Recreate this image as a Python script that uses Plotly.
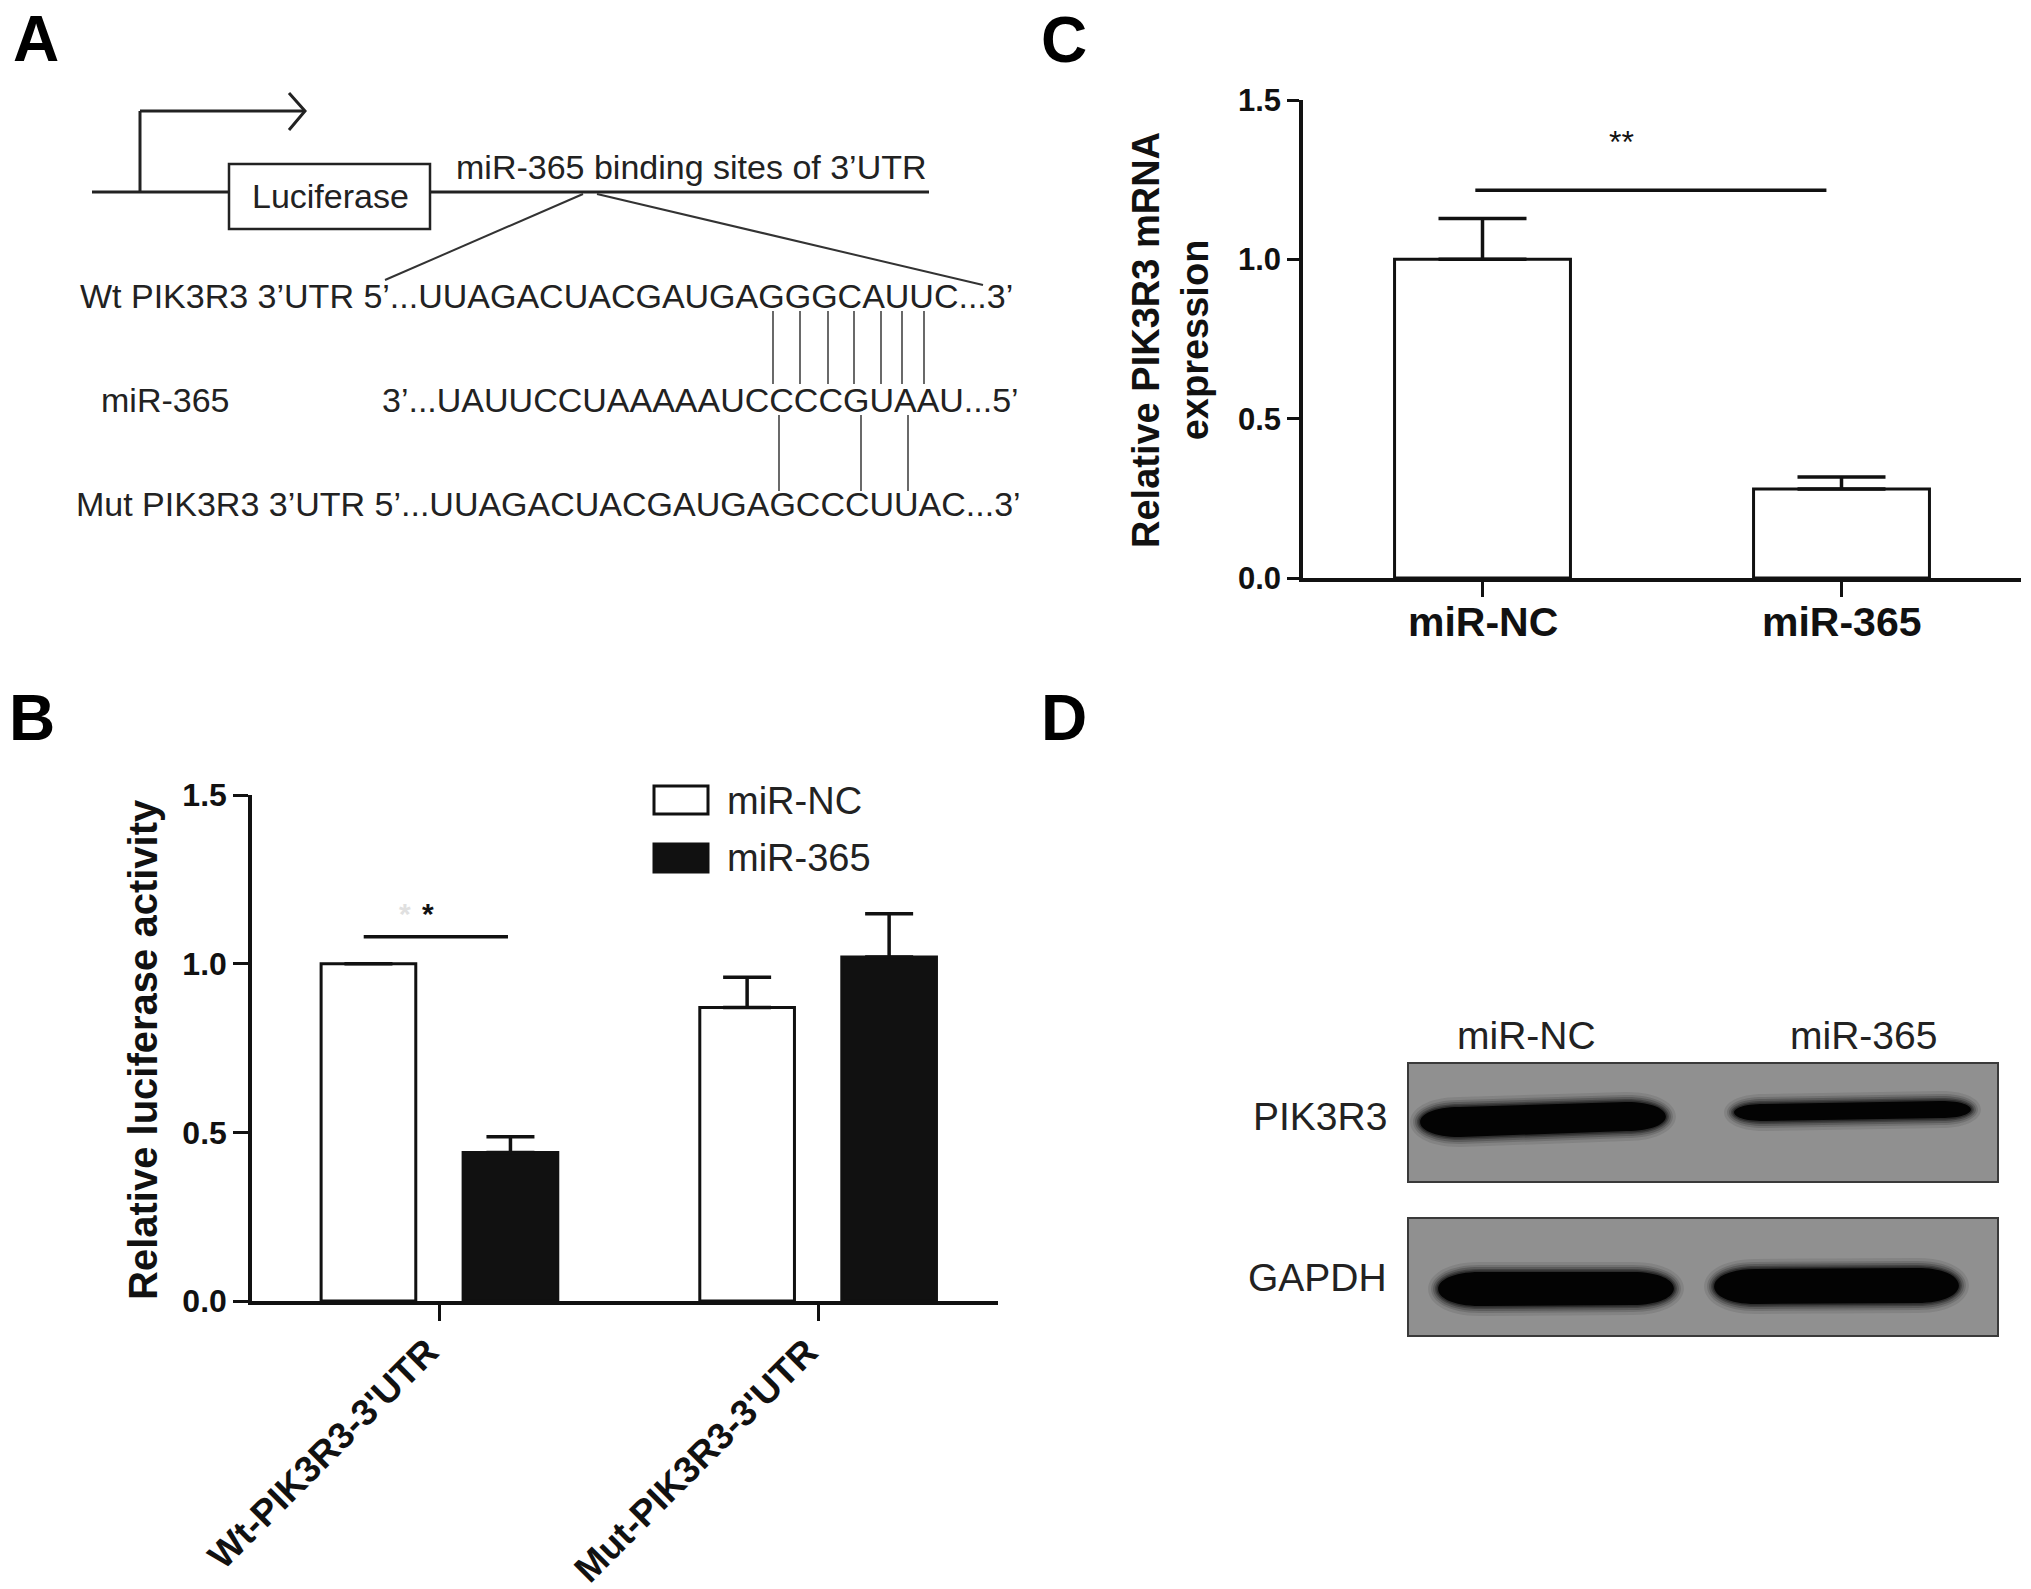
import plotly.graph_objects as go

# ---------------- data ----------------
# Panel B: relative luciferase activity
b_groups = ["Wt-PIK3R3-3'UTR", "Mut-PIK3R3-3'UTR"]
b_nc = [1.00, 0.87]
b_nc_err = [0.0, 0.09]
b_mir = [0.44, 1.02]
b_mir_err = [0.047, 0.128]
b_sig_y = 1.08

# Panel C: relative PIK3R3 mRNA expression
c_groups = ["miR-NC", "miR-365"]
c_vals = [1.00, 0.279]
c_err = [0.128, 0.038]
c_sig_y = 1.217

y_tickvals = [0.0, 0.5, 1.0, 1.5]
y_ticktext = ["0.0", "0.5", "1.0", "1.5"]

legend_names = ["miR-NC", "miR-365"]

# Panel A text
wt_label = "Wt PIK3R3 3\u2019UTR 5\u2019...UUAGACUACGAUGAGGGCAUUC...3\u2019"
mir_label = "miR-365"
mir_seq = "3\u2019...UAUUCCUAAAAAUCCCCGUAAU...5\u2019"
mut_label = "Mut PIK3R3 3\u2019UTR 5\u2019...UUAGACUACGAUGAGCCCUUAC...3\u2019"

# Panel D
blot_lanes = ["miR-NC", "miR-365"]
blot_rows = ["PIK3R3", "GAPDH"]

# ---------------- layout helpers ----------------
W, H = 2031, 1589
FONT = "Liberation Sans, Arial, sans-serif"
INK = "#111111"
TXT = "#222222"


def dx(px):
    return px / W


def dy(py):
    return 1 - py / H


shapes = []
annotations = []


def line(x0, y0, x1, y1, w=3, c="#222222"):
    shapes.append(dict(type="line", xref="x3", yref="y3", x0=x0, y0=y0, x1=x1, y1=y1,
                       line=dict(color=c, width=w), layer="above"))


def text(x, y, s, size=34, bold=False, xanchor="left", color=TXT, angle=0):
    annotations.append(dict(xref="x3", yref="y3", x=x, y=y, text=s, showarrow=False,
                            xanchor=xanchor, yanchor="middle", textangle=angle,
                            font=dict(family=FONT, size=size, color=color,
                                      weight="bold" if bold else "normal")))


def band(x0, x1, tl, bl, tr, br, r, color="#050505", opacity=1.0):
    p = (f"M {x0 + r},{tl} L {x1 - r},{tr} "
         f"C {x1 + 0.33 * r},{tr} {x1 + 0.33 * r},{br} {x1 - r},{br} "
         f"L {x0 + r},{bl} "
         f"C {x0 - 0.33 * r},{bl} {x0 - 0.33 * r},{tl} {x0 + r},{tl} Z")
    shapes.append(dict(type="path", xref="x3", yref="y3", path=p, fillcolor=color,
                       opacity=opacity, line=dict(width=0), layer="above"))


def blurred_band(x0, x1, tl, bl, tr, br, r):
    for e, op in [(10, 0.10), (7, 0.16), (5, 0.24), (3, 0.35), (1.5, 0.5)]:
        band(x0 - e, x1 + e, tl - e, bl + e, tr - e, br + e, r + e, "#151515", op)
    band(x0, x1, tl, bl, tr, br, r, "#030303", 1.0)


# ---------------- panel letters ----------------
text(36, 39, "A", size=64, bold=True, xanchor="center", color="#000")
text(32, 718, "B", size=64, bold=True, xanchor="center", color="#000")
text(1064, 40, "C", size=64, bold=True, xanchor="center", color="#000")
text(1064, 718, "D", size=64, bold=True, xanchor="center", color="#000")

# ---------------- panel A diagram ----------------
line(92, 192, 929, 192, 3)
line(140, 193, 140, 111, 3)
line(140, 111, 304, 111, 3)
shapes.append(dict(type="path", xref="x3", yref="y3", path="M 289,93 L 305,111 L 289,130",
                   line=dict(color="#222222", width=3), layer="above"))
shapes.append(dict(type="rect", xref="x3", yref="y3", x0=229, x1=430, y0=164, y1=229,
                   fillcolor="white", line=dict(color="#222222", width=2.5), layer="above"))
text(330, 196, "Luciferase", size=34, xanchor="center")
text(454, 167, "miR-365 binding sites of 3\u2019UTR", size=34)
line(583, 194, 385, 280, 2, "#333333")
line(597, 194, 983, 285, 2, "#333333")
text(78, 296, wt_label, size=34)
text(99, 400, mir_label, size=34)
text(380, 400, mir_seq, size=34)
text(74, 504, mut_label, size=34)
for xp in [773, 800, 828, 854, 881, 902, 924]:
    line(xp, 311, xp, 384, 1.6, "#444444")
for xp in [779, 861, 908]:
    line(xp, 415, xp, 491, 1.6, "#444444")

# ---------------- panel D blot ----------------
for (y0, y1) in [(1063, 1182), (1218, 1336)]:
    shapes.append(dict(type="rect", xref="x3", yref="y3", x0=1408, x1=1998, y0=y0, y1=y1,
                       fillcolor="#909090", line=dict(color="#3a3a3a", width=2), layer="above"))
blurred_band(1420, 1666, 1107, 1137, 1102, 1131, 40)
blurred_band(1734, 1971, 1104, 1121, 1101, 1118, 30)
blurred_band(1438, 1674, 1272, 1306, 1272, 1305, 42)
blurred_band(1714, 1959, 1269, 1304, 1268, 1303, 42)
text(1526, 1035, blot_lanes[0], size=39, xanchor="center")
text(1863, 1035, blot_lanes[1], size=39, xanchor="center")
text(1389, 1116, blot_rows[0], size=39, xanchor="right")
text(1389, 1277, blot_rows[1], size=39, xanchor="right")

# ---------------- panel B legend ----------------
shapes.append(dict(type="rect", xref="x3", yref="y3", x0=654, x1=708, y0=786, y1=814,
                   fillcolor="white", line=dict(color=INK, width=3), layer="above"))
shapes.append(dict(type="rect", xref="x3", yref="y3", x0=654, x1=708, y0=844, y1=872,
                   fillcolor=INK, line=dict(color=INK, width=3), layer="above"))
text(725, 801, legend_names[0], size=38)
text(725, 858, legend_names[1], size=38)

# significance stars
text(405, 913, "*", size=30, bold=True, xanchor="center", color="#e0e0e0")
text(428, 913, "*", size=30, bold=True, xanchor="center", color=INK)
text(1621, 142, "**", size=32, xanchor="center", color=INK)

# axis titles
text(143, 1050, "Relative luciferase activity", size=40, bold=True, xanchor="center", color=INK, angle=-90)
text(1170, 340, "Relative PIK3R3 mRNA<br>expression", size=38, bold=True, xanchor="center",
     color=INK, angle=-90)

# category tick labels, placed at the axes' own category positions
for g in b_groups:
    annotations.append(dict(xref="x", yref="y3", x=g, y=1328, xshift=10, text=g,
                            showarrow=False, xanchor="right", yanchor="top", textangle=-45,
                            font=dict(family=FONT, size=37, color=INK, weight="bold")))
for g in c_groups:
    annotations.append(dict(xref="x2", yref="y3", x=g, y=622, text=g,
                            showarrow=False, xanchor="center", yanchor="middle",
                            font=dict(family=FONT, size=41, color=INK, weight="bold")))

# significance lines (data coordinates)
shapes.append(dict(type="line", xref="x", yref="y", x0=-0.2, x1=0.181, y0=b_sig_y, y1=b_sig_y,
                   line=dict(color=INK, width=3.5)))
shapes.append(dict(type="line", xref="x2", yref="y2", x0=-0.02, x1=0.958, y0=c_sig_y, y1=c_sig_y,
                   line=dict(color=INK, width=3.5)))


def err_list(errs):
    return [e if e > 0 else None for e in errs]


# ---------------- traces ----------------
fig = go.Figure()
fig.add_trace(go.Bar(x=b_groups, y=b_nc, width=0.25, offset=-0.3125, name=legend_names[0],
                     marker=dict(color="white", line=dict(color=INK, width=3)),
                     error_y=dict(type="data", array=err_list(b_nc_err), arrayminus=[0, 0],
                                  symmetric=False, color=INK, thickness=3.5, width=24),
                     xaxis="x", yaxis="y", showlegend=False))
fig.add_trace(go.Bar(x=b_groups, y=b_mir, width=0.25, offset=0.0625, name=legend_names[1],
                     marker=dict(color=INK, line=dict(color=INK, width=3)),
                     error_y=dict(type="data", array=err_list(b_mir_err), arrayminus=[0, 0],
                                  symmetric=False, color=INK, thickness=3.5, width=24),
                     xaxis="x", yaxis="y", showlegend=False))
fig.add_trace(go.Bar(x=c_groups, y=c_vals, width=0.49,
                     marker=dict(color="white", line=dict(color=INK, width=3)),
                     error_y=dict(type="data", array=err_list(c_err), arrayminus=[0, 0],
                                  symmetric=False, color=INK, thickness=3.5, width=44),
                     xaxis="x2", yaxis="y2", showlegend=False))

axis_common = dict(showline=True, linecolor=INK, linewidth=3.5, showgrid=False, zeroline=False,
                   ticks="outside", tickcolor=INK, tickwidth=3, fixedrange=True, automargin=False)

fig.update_layout(
    template="none",
    width=W, height=H, autosize=False,
    margin=dict(l=0, r=0, t=0, b=0, pad=0),
    paper_bgcolor="white", plot_bgcolor="rgba(0,0,0,0)",
    barmode="overlay", showlegend=False,
    font=dict(family=FONT, color=INK),
    xaxis=dict(domain=[dx(252), dx(998)], range=[-0.495, 1.475], anchor="y", type="category",
               ticklen=16, showticklabels=False, **axis_common),
    yaxis=dict(domain=[dy(1301), dy(795)], range=[0, 1.5], anchor="x", tickvals=y_tickvals,
               ticktext=y_ticktext, ticklen=15,
               tickfont=dict(family=FONT, size=32, color=INK, weight="bold"), **axis_common),
    xaxis2=dict(domain=[dx(1303), dx(2021)], range=[-0.5, 1.5], anchor="y2", type="category",
                ticklen=15, showticklabels=False, **axis_common),
    yaxis2=dict(domain=[dy(578), dy(100)], range=[0, 1.5], anchor="x2", tickvals=y_tickvals,
                ticktext=y_ticktext, ticklen=12,
                tickfont=dict(family=FONT, size=31, color=INK, weight="bold"), **axis_common),
    xaxis3=dict(domain=[0, 1], range=[0, W], anchor="y3", visible=False, fixedrange=True,
                automargin=False),
    yaxis3=dict(domain=[0, 1], range=[H, 0], anchor="x3", visible=False, fixedrange=True,
                automargin=False),
    shapes=shapes,
    annotations=annotations,
)

fig.write_html("out.html", config={"displayModeBar": False},
               post_script="document.body.style.margin='0';document.body.style.overflow='hidden';")
